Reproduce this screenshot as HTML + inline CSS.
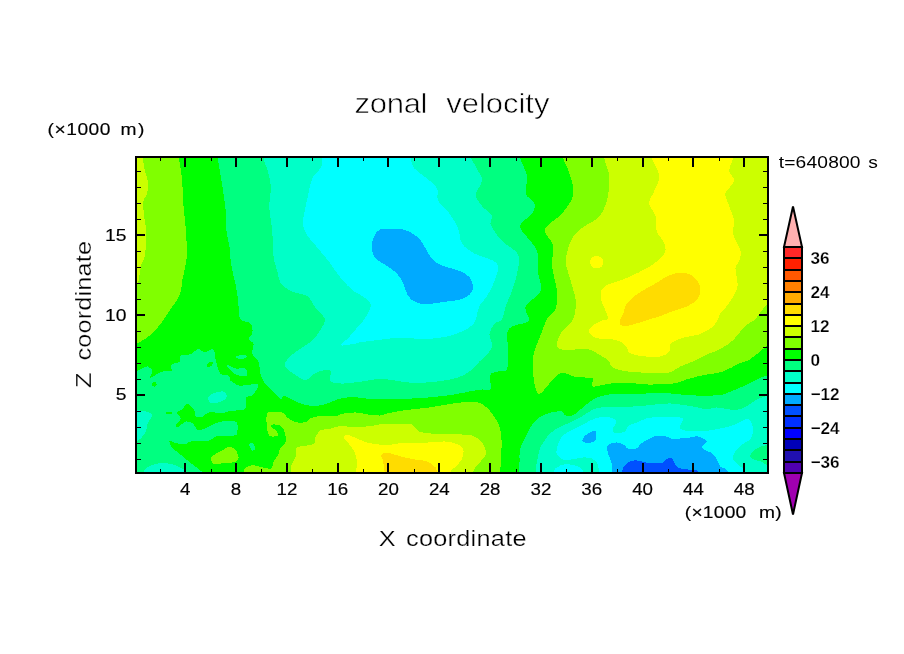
<!DOCTYPE html>
<html><head><meta charset="utf-8"><title>zonal velocity</title>
<style>
html,body{margin:0;padding:0;background:#fff}
svg{display:block}
text.thin{stroke:#fff;stroke-width:.6px}
text.thin2{stroke:#fff;stroke-width:.25px}
text.bold{stroke:#000;stroke-width:.15px}
</style></head><body>
<svg width="904" height="654" viewBox="0 0 904 654">
<defs><clipPath id="fr"><rect x="136.0" y="157.0" width="632.0" height="316.0"/></clipPath></defs>
<g clip-path="url(#fr)" shape-rendering="crispEdges">
<rect x="130" y="150" width="645" height="330" fill="#00ff00"/>
<path fill="#80ff00" d="M179.0 151.0C179.0 152.2 178.5 153.0 179.0 158.0C179.5 163.0 181.5 173.0 182.2 181.0C183.0 189.0 182.9 197.7 183.5 206.0C184.1 214.3 185.5 222.7 186.0 231.0C186.5 239.3 187.0 249.8 186.8 256.0C186.5 262.2 185.5 264.3 184.8 268.5C184.0 272.7 182.9 277.2 182.2 281.0C181.6 284.8 181.8 287.9 181.0 291.0C180.2 294.1 178.9 296.8 177.2 299.8C175.6 302.7 173.2 305.3 171.0 308.5C168.8 311.7 166.1 316.0 164.0 319.0C161.9 322.0 161.1 323.6 158.5 326.5C155.9 329.4 152.2 333.6 148.5 336.5C144.8 339.4 140.6 341.7 136.0 344.0C131.4 346.3 123.5 349.2 121.0 350.2L100.0 360.0L100.0 120.0L179.0 120.0Z"/>
<path fill="#80ff00" d="M563.2 148.5C563.2 150.1 562.2 153.8 563.2 158.0C564.3 162.2 567.8 167.4 569.5 173.5C571.2 179.6 574.5 188.1 573.2 194.8C572.0 201.4 566.4 208.3 562.0 213.5C557.6 218.7 549.7 222.7 547.0 226.0C544.3 229.3 544.7 230.2 545.8 233.5C546.8 236.8 552.2 240.6 553.2 246.0C554.3 251.4 551.4 258.5 552.0 266.0C552.6 273.5 556.4 283.9 557.0 291.0C557.6 298.1 557.4 303.8 555.8 308.5C554.1 313.2 549.3 315.2 547.0 319.0C544.7 322.8 543.7 327.3 542.0 331.5C540.3 335.7 538.5 339.8 537.0 344.0C535.5 348.2 533.9 351.5 533.2 356.5C532.6 361.5 532.8 368.6 533.2 374.0C533.7 379.4 534.7 385.7 535.8 389.0C536.8 392.3 537.6 394.4 539.5 394.0C541.4 393.6 544.5 389.2 547.0 386.5C549.5 383.8 552.0 380.0 554.5 377.8C557.0 375.5 558.7 373.0 562.0 372.8C565.3 372.5 570.2 375.7 574.5 376.5C578.8 377.3 584.9 377.3 588.0 377.8C591.1 378.2 592.2 377.5 593.0 379.0C593.8 380.5 590.1 385.8 593.0 386.5C595.9 387.2 604.7 384.1 610.5 383.5C616.3 382.9 621.8 382.6 628.0 382.8C634.2 382.9 640.5 384.4 648.0 384.5C655.5 384.6 666.3 384.4 673.0 383.5C679.7 382.6 683.0 380.4 688.0 379.0C693.0 377.6 697.2 376.5 703.0 375.2C708.8 374.0 717.2 373.4 723.0 371.5C728.8 369.6 733.4 366.1 738.0 364.0C742.6 361.9 745.5 362.1 750.5 359.0C755.5 355.9 761.8 349.4 768.0 345.2C774.2 341.1 784.7 335.9 788.0 334.0L800.0 120.0L563.0 120.0Z"/>
<path fill="#80ff00" d="M500.2 494.0C500.2 490.3 500.0 479.5 500.2 472.0C500.5 464.5 501.4 455.8 501.5 449.0C501.6 442.2 501.7 436.5 500.8 431.5C499.8 426.5 497.8 422.8 495.8 419.0C493.7 415.2 491.0 411.7 488.2 409.0C485.5 406.3 483.0 403.9 479.5 402.8C476.0 401.6 472.0 401.8 467.0 402.0C462.0 402.2 456.2 403.0 449.5 404.0C442.8 405.0 434.5 406.7 427.0 407.8C419.5 408.8 411.3 409.2 404.5 410.2C397.7 411.3 390.0 413.0 386.0 413.8C382.0 414.7 383.2 415.3 380.4 415.5C377.5 415.6 372.9 415.2 368.7 414.7C364.6 414.2 359.9 412.6 355.5 412.5C351.0 412.4 345.5 413.2 342.2 413.8C338.9 414.5 338.9 416.0 335.6 416.3C332.2 416.6 326.4 415.5 322.3 415.8C318.1 416.1 313.4 416.9 310.7 418.0C307.9 419.0 308.2 421.4 305.7 422.1C303.2 422.8 298.8 422.9 295.7 422.1C292.7 421.3 289.7 419.1 287.4 417.5C285.2 415.9 285.5 413.4 282.5 412.5C279.4 411.6 271.8 411.7 269.2 412.2C266.6 412.7 267.1 413.5 266.7 415.5C266.3 417.4 266.3 420.5 266.7 423.8C267.1 427.1 267.4 433.4 269.2 435.4C271.0 437.4 276.2 436.4 277.5 435.7C278.7 435.0 277.6 432.7 276.7 431.2C275.7 429.8 272.4 428.2 271.7 427.1C271.0 426.0 271.3 424.9 272.5 424.6C273.7 424.3 277.3 424.4 279.1 425.1C280.9 425.8 282.2 426.8 283.3 428.8C284.4 430.7 285.5 434.6 285.8 437.1C286.1 439.5 285.9 441.8 284.9 443.7C284.0 445.6 281.1 446.7 280.0 448.7C278.9 450.6 279.3 453.4 278.3 455.3C277.3 457.2 275.3 458.2 274.2 460.3C273.1 462.4 272.6 466.4 271.7 467.8C270.7 469.1 270.2 468.7 268.4 468.6C266.6 468.4 263.7 467.5 260.9 466.9C258.1 466.4 254.3 465.1 251.8 465.3C249.3 465.4 247.3 466.5 246.0 467.8C244.6 469.0 244.0 469.0 243.5 472.7C242.9 476.5 242.8 487.2 242.6 490.2Z"/>
<path fill="#80ff00" d="M211.5 457.2C212.2 456.1 213.8 455.0 215.6 453.9C217.4 452.8 220.3 451.7 222.3 450.6C224.2 449.5 225.3 447.7 227.3 447.3C229.2 446.9 232.1 446.9 233.9 448.1C235.7 449.4 237.4 452.8 238.0 454.8C238.7 456.7 238.7 458.5 238.0 459.7C237.4 461.0 236.0 461.7 233.9 462.2C231.8 462.8 228.9 462.8 225.6 463.1C222.3 463.3 216.3 464.3 214.0 463.9C211.6 463.5 211.9 461.7 211.5 460.6C211.1 459.5 210.8 458.4 211.5 457.2Z"/>
<path fill="#ccff00" d="M143.0 148.5C143.0 150.1 142.7 154.2 143.0 158.0C143.3 161.8 144.0 167.2 144.8 171.0C145.5 174.8 147.3 177.2 147.8 181.0C148.2 184.8 148.0 190.2 147.2 193.5C146.5 196.8 144.0 197.2 143.5 201.0C143.0 204.8 143.6 211.4 144.0 216.0C144.4 220.6 145.7 224.3 146.0 228.5C146.3 232.7 146.2 236.4 146.0 241.0C145.8 245.6 145.6 251.8 144.8 256.0C143.9 260.2 142.0 261.8 141.0 266.0C140.0 270.2 139.3 277.7 138.5 281.0C137.7 284.3 138.1 284.3 136.0 286.0C133.9 287.7 127.7 290.2 126.0 291.0L100.0 300.0L100.0 120.0Z"/>
<path fill="#ccff00" d="M604.2 148.5C604.2 150.1 603.4 153.4 604.2 158.0C605.1 162.6 608.6 169.7 609.2 176.0C609.9 182.3 609.0 190.2 608.0 196.0C607.0 201.8 605.1 207.0 603.0 211.0C600.9 215.0 598.0 217.6 595.5 219.8C593.0 221.9 590.9 222.1 588.0 224.0C585.1 225.9 581.1 228.2 578.2 231.0C575.4 233.8 572.8 236.0 570.8 241.0C568.7 246.0 565.8 254.3 565.8 261.0C565.8 267.7 569.1 274.3 570.8 281.0C572.4 287.7 575.3 294.7 575.8 301.0C576.2 307.3 575.5 313.9 573.2 319.0C571.0 324.1 564.7 327.5 562.0 331.5C559.3 335.5 557.4 339.8 557.0 342.8C556.6 345.7 556.6 347.9 559.5 349.0C562.4 350.1 569.8 349.5 574.5 349.5C579.2 349.5 584.1 348.2 588.0 349.0C591.9 349.8 594.7 352.1 598.0 354.0C601.3 355.9 605.5 358.0 608.0 360.2C610.5 362.5 609.7 365.9 613.0 367.8C616.3 369.6 622.2 370.7 628.0 371.5C633.8 372.3 641.3 372.5 648.0 372.8C654.7 373.0 662.6 373.8 668.0 372.8C673.4 371.7 676.3 368.4 680.5 366.5C684.7 364.6 688.4 363.6 693.0 361.5C697.6 359.4 703.4 356.1 708.0 354.0C712.6 351.9 716.3 351.3 720.5 349.0C724.7 346.7 729.7 343.2 733.0 340.2C736.3 337.3 738.0 334.2 740.5 331.5C743.0 328.8 745.5 326.1 748.0 324.0C750.5 321.9 752.2 322.4 755.5 319.0C758.8 315.6 762.6 308.2 768.0 303.5C773.4 298.8 784.7 293.1 788.0 291.0L800.0 120.0L604.0 120.0Z"/>
<path fill="#ccff00" d="M290.8 490.2C290.8 487.2 290.6 477.0 290.8 472.7C290.9 468.4 290.8 467.1 291.6 464.4C292.4 461.8 294.9 459.7 295.7 457.0C296.6 454.2 294.9 449.7 296.6 447.8C298.2 446.0 302.8 446.4 305.7 445.7C308.6 445.0 312.3 445.1 314.0 443.7C315.6 442.3 314.5 439.3 315.6 437.1C316.8 434.8 318.1 431.8 320.6 430.4C323.1 429.0 327.3 429.5 330.6 428.8C333.9 428.0 336.9 426.0 340.5 425.8C344.1 425.5 347.4 427.0 352.2 427.1C356.9 427.2 364.3 426.7 368.7 426.3C373.2 425.9 375.8 425.0 378.7 424.6C381.6 424.2 382.5 423.9 386.0 423.8C389.5 423.7 395.2 423.9 399.5 424.0C403.8 424.1 408.7 423.2 412.0 424.5C415.3 425.8 415.3 429.9 419.5 431.5C423.7 433.1 429.9 433.5 437.0 434.0C444.1 434.5 455.8 434.1 462.0 434.5C468.2 434.9 471.0 434.9 474.5 436.5C478.0 438.1 481.4 441.1 483.2 444.0C485.1 446.9 486.4 450.9 485.8 454.0C485.1 457.1 481.6 459.8 479.5 462.8C477.4 465.8 474.5 466.8 473.2 472.0C472.0 477.2 472.2 490.3 472.0 494.0Z"/>
<path fill="#ffff00" d="M651.8 148.5C651.8 150.1 650.5 153.4 651.8 158.0C653.0 162.6 658.8 170.5 659.2 176.0C659.7 181.5 655.9 186.4 654.2 191.0C652.6 195.6 649.0 199.3 649.2 203.5C649.5 207.7 654.2 211.4 655.5 216.0C656.8 220.6 655.3 226.4 656.8 231.0C658.2 235.6 663.0 239.8 664.2 243.5C665.5 247.2 666.5 249.8 664.2 253.5C662.0 257.2 657.0 261.8 650.5 266.0C644.0 270.2 633.0 275.2 625.5 278.5C618.0 281.8 609.7 283.1 605.5 286.0C601.3 288.9 600.5 291.8 600.5 296.0C600.5 300.2 604.2 307.2 605.5 311.0C606.8 314.8 608.8 317.3 608.0 319.0C607.2 320.7 603.1 319.8 600.5 321.0C597.9 322.2 594.1 324.3 592.2 326.0C590.3 327.7 588.9 329.3 588.9 331.0C588.9 332.7 590.6 334.8 592.2 336.0C593.9 337.2 595.5 337.9 598.8 338.5C602.1 339.1 608.2 338.6 612.1 339.3C616.0 340.0 619.6 341.2 622.1 342.6C624.6 344.0 625.6 345.8 627.0 347.6C628.4 349.4 627.3 351.9 630.4 353.4C633.5 354.9 640.5 356.0 645.5 356.5C650.5 357.0 656.5 357.3 660.5 356.5C664.5 355.7 667.6 353.6 669.2 351.5C670.9 349.4 668.2 346.3 670.5 344.0C672.8 341.7 678.0 339.4 683.0 337.8C688.0 336.1 695.5 335.9 700.5 334.0C705.5 332.1 710.1 329.0 713.0 326.5C715.9 324.0 716.8 321.2 718.0 319.0C719.2 316.8 718.4 316.5 720.5 313.5C722.6 310.5 727.7 305.6 730.5 301.0C733.3 296.4 736.7 291.4 737.5 286.0C738.3 280.6 735.2 272.7 735.5 268.5C735.8 264.3 738.4 263.9 739.2 261.0C740.1 258.1 741.5 255.6 740.5 251.0C739.5 246.4 734.0 238.5 733.0 233.5C732.0 228.5 734.9 225.6 734.2 221.0C733.6 216.4 730.7 210.6 729.2 206.0C727.8 201.4 724.7 197.7 725.5 193.5C726.3 189.3 733.6 184.8 734.2 181.0C734.9 177.2 729.5 174.8 729.2 171.0C729.0 167.2 732.4 161.8 733.0 158.0C733.6 154.2 733.0 150.1 733.0 148.5L733.0 120.0L651.0 120.0Z"/>
<path fill="#ffff00" d="M603.5 262.2C603.5 263.5 603.0 264.9 602.2 265.9C601.4 266.9 600.1 267.8 598.8 268.2C597.6 268.6 595.9 268.6 594.7 268.2C593.4 267.8 592.1 266.9 591.3 265.9C590.5 264.9 590.0 263.5 590.0 262.2C590.0 261.0 590.5 259.6 591.3 258.6C592.1 257.6 593.4 256.7 594.7 256.3C595.9 255.9 597.6 255.9 598.8 256.3C600.1 256.7 601.4 257.6 602.2 258.6C603.0 259.6 603.5 261.0 603.5 262.2Z"/>
<path fill="#ffff00" d="M355.5 490.2C355.5 487.2 355.2 477.2 355.5 472.7C355.7 468.3 357.3 467.1 357.1 463.6C357.0 460.1 356.0 455.3 354.6 452.0C353.3 448.7 350.6 446.0 348.8 443.7C347.0 441.3 344.1 439.4 343.9 437.9C343.6 436.4 345.2 434.6 347.2 434.6C349.1 434.6 352.4 436.6 355.5 437.9C358.5 439.1 361.6 440.9 365.4 442.0C369.3 443.1 375.3 444.0 378.7 444.5C382.1 445.1 381.7 445.6 386.0 445.3C390.3 445.1 398.1 443.2 404.5 442.8C410.9 442.3 417.8 443.0 424.5 442.8C431.2 442.5 439.1 441.3 444.5 441.5C449.9 441.7 453.9 442.8 457.0 444.0C460.1 445.2 462.4 446.5 463.2 449.0C464.1 451.5 463.2 456.1 462.0 459.0C460.8 461.9 457.6 464.3 455.8 466.5C453.9 468.7 451.8 467.4 450.8 472.0C449.7 476.6 449.7 490.3 449.5 494.0Z"/>
<path fill="#ffdc00" d="M626.2 304.5C628.6 301.3 633.1 297.0 638.0 293.5C642.9 290.0 650.1 286.6 655.5 283.5C660.9 280.4 665.5 276.5 670.5 274.8C675.5 273.0 681.3 272.4 685.5 273.0C689.7 273.6 693.0 275.9 695.5 278.5C698.0 281.1 700.1 285.2 700.5 288.5C700.9 291.8 700.1 295.6 698.0 298.5C695.9 301.4 692.2 303.9 688.0 306.0C683.8 308.1 677.6 309.3 673.0 311.0C668.4 312.7 664.2 314.7 660.5 316.0C656.8 317.3 654.2 317.8 650.5 319.0C646.8 320.2 641.6 321.9 638.0 323.0C634.4 324.1 631.5 325.3 628.7 325.7C625.9 326.1 622.7 325.8 621.2 325.2C619.7 324.6 619.2 324.0 619.6 321.9C620.0 319.8 622.6 315.7 623.7 312.8C624.8 309.9 623.9 307.7 626.2 304.5Z"/>
<path fill="#ffdc00" d="M387.0 490.0C386.4 485.2 384.2 467.3 383.2 461.5C382.2 455.7 380.4 456.5 381.0 455.0C381.6 453.5 383.9 452.6 387.0 452.8C390.1 452.9 395.3 455.0 399.5 456.0C403.7 457.0 407.4 458.1 412.0 459.0C416.6 459.9 423.2 460.2 427.0 461.5C430.8 462.8 432.8 464.8 434.5 466.5C436.2 468.2 436.4 468.1 437.0 472.0C437.6 475.9 437.8 487.0 438.0 490.0Z"/>
<path fill="#00ff80" d="M218.0 148.5C218.0 150.1 217.7 154.2 218.0 158.0C218.3 161.8 218.8 165.1 219.8 171.0C220.7 176.9 222.5 186.4 223.5 193.5C224.5 200.6 225.5 207.2 226.0 213.5C226.5 219.8 225.9 225.2 226.5 231.0C227.1 236.8 229.0 243.1 229.8 248.5C230.5 253.9 230.2 258.1 231.0 263.5C231.8 268.9 233.7 276.0 234.8 281.0C235.8 286.0 236.6 289.3 237.2 293.5C237.9 297.7 238.0 301.8 238.5 306.0C239.0 310.2 238.4 316.0 240.5 319.0C242.6 322.0 249.0 321.5 251.0 324.0C253.0 326.5 252.7 331.5 252.2 334.0C251.8 336.5 248.3 337.3 248.5 339.0C248.7 340.7 252.9 341.5 253.5 344.0C254.1 346.5 251.4 351.1 252.2 354.0C253.1 356.9 257.0 357.8 258.5 361.5C260.0 365.2 259.5 372.3 261.0 376.5C262.5 380.7 265.3 383.8 267.5 386.4C269.7 389.1 272.0 390.2 274.2 392.3C276.4 394.3 279.1 398.3 280.8 398.9C282.5 399.4 282.5 395.6 284.1 395.6C285.8 395.6 288.3 397.6 290.8 398.9C293.2 400.1 296.0 401.9 299.1 403.0C302.1 404.1 305.7 405.1 309.0 405.5C312.3 405.9 315.6 405.9 319.0 405.5C322.3 405.1 325.6 404.1 328.9 403.0C332.2 401.9 335.0 399.9 338.9 398.9C342.7 397.9 347.2 397.2 352.2 397.2C357.1 397.2 367.1 398.6 368.7 398.9C370.4 399.2 360.6 398.9 362.0 399.0C363.4 399.1 370.8 399.5 377.0 399.5C383.2 399.5 391.6 399.3 399.5 399.0C407.4 398.7 416.2 398.4 424.5 397.8C432.8 397.1 442.0 396.3 449.5 395.2C457.0 394.2 464.1 392.5 469.5 391.5C474.9 390.5 478.5 389.9 482.0 389.5C485.5 389.1 489.4 391.4 490.8 389.0C492.1 386.6 488.8 378.2 490.0 375.2C491.2 372.3 495.4 372.5 498.2 371.5C501.1 370.5 505.3 372.8 507.0 369.0C508.7 365.2 508.2 354.8 508.2 349.0C508.2 343.2 506.4 337.8 507.0 334.0C507.6 330.2 508.9 328.4 512.0 326.5C515.1 324.6 522.9 324.0 525.8 322.8C528.6 321.5 529.0 321.8 529.0 319.0C529.0 316.2 523.8 310.7 525.8 306.0C527.7 301.3 538.7 296.4 540.8 291.0C542.8 285.6 538.9 280.2 538.2 273.5C537.6 266.8 538.7 256.8 537.0 251.0C535.3 245.2 531.1 242.7 528.2 238.5C525.4 234.3 519.4 230.2 520.0 226.0C520.6 221.8 529.6 217.2 532.0 213.5C534.4 209.8 535.5 206.8 534.5 203.5C533.5 200.2 527.0 198.1 525.8 193.5C524.5 188.9 528.0 181.9 527.0 176.0C526.0 170.1 521.2 162.6 520.0 158.0C518.8 153.4 520.0 150.1 520.0 148.5Z"/>
<path fill="#00ff80" d="M126.0 373.2C127.2 373.0 134.1 372.1 136.0 371.5C137.9 370.9 141.3 368.8 142.6 368.2C144.0 367.6 146.5 366.3 147.6 366.5C148.8 366.8 152.4 369.3 152.6 370.7C152.8 372.1 149.1 377.6 149.3 378.2C149.5 378.7 152.7 376.4 154.3 375.7C155.8 374.9 160.5 372.1 162.5 371.5C164.6 370.9 170.7 371.5 171.7 370.7C172.6 369.9 169.9 366.0 170.8 364.9C171.8 363.8 178.9 362.6 180.0 361.6C181.0 360.5 178.7 356.6 180.0 355.8C181.2 354.9 188.6 354.9 190.8 354.1C192.9 353.3 196.6 349.3 198.2 349.1C199.9 348.9 203.2 352.4 204.9 352.4C206.5 352.4 211.2 349.0 212.3 349.1C213.5 349.2 214.4 352.0 214.8 353.3C215.2 354.5 215.2 357.8 215.6 359.9C216.1 362.0 218.2 369.8 219.0 371.5C219.7 373.3 221.1 374.4 222.3 374.8C223.4 375.3 228.0 375.0 228.9 375.7C229.9 376.4 229.4 379.5 230.6 380.7C231.7 381.8 236.7 385.1 238.9 385.6C241.0 386.1 246.6 385.0 248.8 384.8C251.1 384.6 257.0 383.5 258.0 384.0C258.9 384.5 257.8 387.6 257.1 388.9C256.5 390.3 253.4 394.6 252.2 395.6C250.9 396.6 247.0 396.1 246.3 397.2C245.7 398.4 246.6 404.1 246.3 405.5C246.1 407.0 245.7 409.3 243.9 410.0C242.0 410.6 232.9 410.4 230.6 410.8C228.3 411.1 226.5 412.7 223.9 412.9C221.4 413.1 211.5 412.0 209.0 412.4C206.5 412.9 203.9 416.1 202.4 416.6C200.8 417.1 196.7 417.4 195.7 416.6C194.8 415.8 195.0 411.5 194.1 410.0C193.1 408.4 188.8 403.7 187.4 403.7C186.1 403.6 183.7 408.0 182.5 409.1C181.2 410.2 176.8 411.9 176.7 412.9C176.5 414.0 180.9 416.8 180.8 418.3C180.7 419.7 175.9 424.7 175.5 425.7C175.1 426.8 176.3 427.9 177.5 427.4C178.7 426.9 184.0 422.1 185.8 421.6C187.5 421.1 191.1 422.3 192.4 423.2C193.8 424.2 196.0 428.9 197.4 429.5C198.7 430.2 202.5 429.5 204.0 429.0C205.6 428.6 208.7 426.6 210.7 425.7C212.6 424.8 217.7 422.1 220.6 421.6C223.5 421.1 233.6 421.2 235.6 421.6C237.5 422.0 237.5 423.3 237.5 424.9C237.6 426.4 237.8 433.6 236.4 434.8C235.0 436.1 228.0 435.5 225.6 435.7C223.2 435.9 217.6 435.9 215.6 436.5C213.7 437.1 211.7 440.2 209.0 440.7C206.3 441.1 195.1 440.3 192.4 440.7C189.7 441.0 187.7 443.7 185.8 444.0C183.8 444.3 177.8 443.5 175.8 443.1C173.9 442.8 169.6 440.1 169.2 440.7C168.8 441.2 171.1 446.5 172.5 448.1C173.9 449.8 178.7 453.0 180.8 454.8C182.9 456.5 188.2 461.0 190.8 463.1C193.3 465.1 199.9 469.9 202.4 472.2C204.9 474.5 211.2 481.7 212.3 483.0L100.0 500.0Z"/>
<path fill="#00ff00" d="M156.6 384.3C156.6 384.8 156.3 385.5 155.9 385.9C155.5 386.3 154.8 386.6 154.3 386.6C153.7 386.6 153.0 386.3 152.6 385.9C152.2 385.5 152.0 384.8 152.0 384.3C152.0 383.8 152.2 383.1 152.6 382.7C153.0 382.3 153.7 382.0 154.3 382.0C154.8 382.0 155.5 382.3 155.9 382.7C156.3 383.1 156.6 383.8 156.6 384.3Z"/>
<path fill="#00ff00" d="M206.5 364.9C206.8 364.0 208.7 362.3 209.8 361.9C210.9 361.5 212.9 361.8 213.2 362.4C213.4 363.0 212.3 364.9 211.5 365.7C210.7 366.5 209.0 367.5 208.2 367.4C207.3 367.2 206.2 365.8 206.5 364.9Z"/>
<path fill="#00ff00" d="M165.5 412.1L171.8 412.1L171.8 413.9L165.5 413.9Z"/>
<path fill="#00ff80" d="M227.3 364.9C228.6 365.1 232.5 367.9 235.6 368.5C238.6 369.1 243.6 367.4 245.5 368.5C247.4 369.7 248.2 374.6 246.8 375.7C245.5 376.8 239.8 375.9 237.2 375.2C234.6 374.4 233.0 372.5 231.4 371.2C229.8 369.9 228.3 368.4 227.6 367.4C226.9 366.3 225.9 364.7 227.3 364.9Z"/>
<path fill="#00ff80" d="M235.6 356.9C236.1 356.3 240.3 355.1 242.2 354.9C244.1 354.7 246.6 355.2 247.2 355.8C247.7 356.3 246.9 357.8 245.5 358.3C244.1 358.8 240.5 359.0 238.9 358.8C237.2 358.5 235.0 357.6 235.6 356.9Z"/>
<path fill="#00ff80" d="M249.7 443.5C250.3 442.8 252.6 442.6 253.5 443.5C254.4 444.4 255.3 447.8 255.1 448.9C255.0 450.1 253.4 450.9 252.5 450.6C251.6 450.3 250.3 448.5 249.8 447.3C249.4 446.1 249.1 444.1 249.7 443.5Z"/>
<path fill="#00ff80" d="M519.5 494.0C519.5 490.3 519.5 477.4 519.5 472.0C519.5 466.6 519.4 465.3 519.5 461.5C519.6 457.7 519.2 452.8 520.0 449.0C520.8 445.2 522.9 442.3 524.5 439.0C526.1 435.7 527.4 432.3 529.5 429.0C531.6 425.7 533.7 421.7 537.0 419.0C540.3 416.3 545.3 414.0 549.5 412.8C553.7 411.5 559.5 411.1 562.0 411.5C564.5 411.9 562.6 414.6 564.5 415.2C566.4 415.9 570.4 416.3 573.2 415.2C576.0 414.1 578.7 410.8 581.5 408.6C584.2 406.4 587.0 403.9 589.8 402.0C592.5 400.0 594.2 398.4 598.1 397.0C601.9 395.6 610.5 394.2 613.0 393.7C615.5 393.2 608.8 393.9 613.0 394.0C617.2 394.1 629.7 394.2 638.0 394.0C646.3 393.8 654.7 392.5 663.0 392.8C671.3 393.0 678.8 394.8 688.0 395.2C697.2 395.7 710.9 395.9 718.0 395.2C725.1 394.6 725.9 393.2 730.5 391.5C735.1 389.8 740.5 387.5 745.5 385.2C750.5 383.0 756.8 379.4 760.5 377.8C764.2 376.1 763.4 376.7 768.0 375.2C772.6 373.8 784.7 370.0 788.0 369.0L800.0 510.0Z"/>
<path fill="#00ffc8" d="M263.5 148.5C263.5 150.1 262.7 153.8 263.5 158.0C264.3 162.2 267.2 168.4 268.5 173.5C269.8 178.6 270.9 183.1 271.0 188.5C271.1 193.9 269.0 198.9 269.2 206.0C269.5 213.1 271.5 222.7 272.2 231.0C273.0 239.3 272.7 249.3 273.5 256.0C274.3 262.7 276.0 266.4 277.2 271.0C278.5 275.6 278.7 280.2 281.0 283.5C283.3 286.8 287.7 289.2 291.0 291.0C294.3 292.8 298.1 293.0 301.0 294.0C303.9 295.0 306.0 294.8 308.5 297.2C311.0 299.7 313.3 304.9 316.0 308.5C318.7 312.1 323.9 315.6 324.8 319.0C325.6 322.4 323.3 325.2 321.0 329.0C318.7 332.8 315.2 337.8 311.0 341.5C306.8 345.2 300.2 348.2 296.0 351.5C291.8 354.8 287.7 358.8 286.0 361.5C284.3 364.2 284.3 365.5 286.0 367.8C287.7 370.0 292.7 373.2 296.0 375.2C299.3 377.3 302.7 380.7 306.0 380.2C309.3 379.8 312.0 374.4 316.0 372.8C320.0 371.1 327.2 368.8 329.8 370.2C332.2 371.7 328.7 379.3 331.0 381.5C333.3 383.7 338.3 383.5 343.5 383.5C348.7 383.5 355.6 382.2 362.0 381.5C368.4 380.8 373.7 378.8 382.0 379.0C390.3 379.2 402.8 382.3 412.0 382.8C421.2 383.2 429.5 382.3 437.0 381.5C444.5 380.7 451.6 379.4 457.0 377.8C462.4 376.1 465.8 374.2 469.5 371.5C473.2 368.8 476.2 364.8 479.5 361.5C482.8 358.2 487.4 354.4 489.5 351.5C491.6 348.6 492.0 346.9 492.0 344.0C492.0 341.1 489.1 337.3 489.5 334.0C489.9 330.7 492.4 326.5 494.5 324.0C496.6 321.5 500.1 322.0 502.0 319.0C503.9 316.0 504.1 310.7 505.8 306.0C507.4 301.3 510.1 296.4 512.0 291.0C513.9 285.6 516.0 279.5 517.0 273.5C518.0 267.5 520.8 260.2 518.2 254.8C515.8 249.3 506.6 246.0 502.0 241.0C497.4 236.0 492.4 228.9 490.8 224.8C489.1 220.6 493.5 219.1 492.0 216.0C490.5 212.9 484.7 209.5 482.0 206.0C479.3 202.5 475.8 198.9 475.8 194.8C475.8 190.6 481.6 185.0 482.0 181.0C482.4 177.0 480.0 174.8 478.2 171.0C476.5 167.2 472.4 161.8 471.2 158.0C470.1 154.2 471.2 150.1 471.2 148.5Z"/>
<path fill="#00ffc8" d="M126.0 409.1C127.7 409.3 132.7 409.5 136.0 410.0C139.3 410.4 143.3 410.9 146.0 411.6C148.6 412.3 150.9 413.0 151.8 414.1C152.6 415.2 151.6 416.7 150.9 418.3C150.2 419.8 148.4 421.0 147.6 423.2C146.8 425.4 147.1 429.0 146.0 431.5C144.8 434.0 142.6 436.5 141.0 438.2C139.3 439.8 138.5 440.4 136.0 441.5C133.5 442.6 127.7 444.2 126.0 444.8Z"/>
<path fill="#00ffc8" d="M142.6 483.0C142.8 481.2 142.6 474.8 143.5 472.2C144.3 469.6 145.5 468.6 147.6 467.2C149.7 465.8 152.9 464.6 155.9 463.9C159.0 463.2 162.5 462.8 165.9 463.1C169.2 463.3 172.8 464.4 175.8 465.5C178.9 466.6 182.5 468.6 184.1 469.7C185.8 470.8 185.4 470.0 185.8 472.2C186.2 474.4 186.5 481.2 186.6 483.0Z"/>
<path fill="#00ffc8" d="M208.2 397.2C208.7 395.6 211.6 394.1 214.0 393.1C216.3 392.1 220.2 391.3 222.3 391.4C224.4 391.6 225.9 392.7 226.4 393.9C227.0 395.2 226.8 397.5 225.6 398.9C224.4 400.3 221.5 401.6 219.0 402.2C216.5 402.9 212.5 403.6 210.7 402.7C208.9 401.9 207.6 398.8 208.2 397.2Z"/>
<path fill="#00ffc8" d="M535.8 494.0C535.8 490.3 535.5 477.4 535.8 472.0C536.0 466.6 536.3 465.4 537.0 461.5C537.7 457.6 538.7 452.0 540.0 448.4C541.3 444.9 543.3 442.6 545.0 440.1C546.6 437.6 547.5 435.7 550.0 433.5C552.4 431.3 556.6 428.6 559.9 426.8C563.2 425.0 566.3 424.4 569.9 422.7C573.5 421.0 577.6 419.1 581.5 416.9C585.4 414.7 588.9 411.1 593.1 409.4C597.2 407.8 601.4 407.3 606.4 406.9C611.3 406.5 617.4 407.1 623.0 406.9C628.5 406.8 634.0 406.5 639.6 406.1C645.1 405.7 650.6 404.9 656.2 404.4C661.7 404.0 665.8 403.1 672.7 403.6C679.7 404.1 692.4 406.4 698.0 407.4C703.6 408.4 703.4 409.5 706.4 409.5C709.4 409.5 713.0 407.5 716.3 407.4C719.6 407.3 723.0 408.6 726.3 409.0C729.6 409.4 732.9 410.3 736.2 409.9C739.5 409.5 742.9 408.2 746.2 406.5C749.5 404.8 752.6 401.7 756.1 399.9C759.6 398.1 761.4 397.8 767.0 395.8C772.6 393.8 786.2 389.3 790.0 388.0L800.0 510.0Z"/>
<path fill="#00ff80" d="M777.7 443.9C775.9 444.1 770.0 444.7 766.9 445.2C763.9 445.8 761.8 446.2 759.5 447.2C757.1 448.2 754.4 449.8 752.8 451.3C751.3 452.9 750.1 454.9 750.3 456.3C750.6 457.7 752.7 458.8 754.5 459.6C756.3 460.5 759.1 460.8 761.1 461.6C763.2 462.5 764.2 464.2 766.9 465.0C769.7 465.7 775.9 466.1 777.7 466.3Z"/>
<path fill="#00ffff" d="M322.2 148.5C322.2 150.1 322.5 154.9 322.2 158.0C322.0 161.1 322.7 163.8 321.0 167.2C319.3 170.7 314.3 174.1 312.2 178.5C310.2 182.9 309.8 188.1 308.5 193.5C307.2 198.9 305.7 206.0 304.8 211.0C303.8 216.0 302.8 219.8 303.0 223.5C303.2 227.2 303.8 229.8 306.0 233.5C308.2 237.2 312.2 241.4 316.0 246.0C319.8 250.6 324.3 255.6 328.5 261.0C332.7 266.4 336.8 273.5 341.0 278.5C345.2 283.5 350.0 288.1 353.5 291.0C357.0 293.9 359.1 293.7 362.0 296.0C364.9 298.3 370.3 300.9 370.8 304.8C371.2 308.6 367.0 315.0 364.5 319.0C362.0 323.0 358.7 325.9 356.0 329.0C353.3 332.1 351.0 335.0 348.5 337.8C346.0 340.5 340.2 344.2 341.0 345.2C341.8 346.3 350.0 344.5 353.5 344.0C357.0 343.5 358.1 342.6 362.0 342.0C365.9 341.4 370.8 341.0 377.0 340.2C383.2 339.5 391.6 338.0 399.5 337.8C407.4 337.5 416.6 339.2 424.5 339.0C432.4 338.8 440.8 337.8 447.0 336.5C453.2 335.2 457.8 333.4 462.0 331.5C466.2 329.6 469.7 327.3 472.0 325.2C474.3 323.2 474.5 322.2 475.8 319.0C477.0 315.8 477.6 309.8 479.5 306.0C481.4 302.2 484.5 300.2 487.0 296.0C489.5 291.8 492.8 286.4 494.5 281.0C496.2 275.6 500.3 268.1 497.0 263.5C493.7 258.9 480.3 256.8 474.5 253.5C468.7 250.2 464.7 247.7 462.0 243.5C459.3 239.3 460.3 233.5 458.2 228.5C456.2 223.5 452.8 218.1 449.5 213.5C446.2 208.9 440.3 205.2 438.2 201.0C436.2 196.8 438.9 192.2 437.0 188.5C435.1 184.8 430.8 181.8 427.0 178.5C423.2 175.2 417.2 171.9 414.5 168.5C411.8 165.1 411.4 161.3 410.8 158.0C410.1 154.7 410.8 150.1 410.8 148.5Z"/>
<path fill="#00ffff" d="M598.9 491.6C598.9 488.4 599.2 477.2 598.9 472.5C598.6 467.8 598.5 465.7 597.2 463.3C596.0 461.0 593.8 459.3 591.4 458.4C589.1 457.4 586.2 457.4 583.1 457.5C580.1 457.7 576.2 458.8 573.2 459.2C570.1 459.6 567.1 460.3 564.9 460.0C562.7 459.8 561.3 458.6 559.9 457.5C558.5 456.4 557.0 455.2 556.6 453.4C556.2 451.6 556.6 449.5 557.4 446.8C558.3 444.0 559.2 439.6 561.6 436.8C563.9 434.0 567.9 432.2 571.5 430.2C575.1 428.1 579.3 426.3 583.1 424.4C587.0 422.4 590.9 419.8 594.8 418.5C598.6 417.3 603.1 416.8 606.4 416.9C609.7 417.0 613.0 418.4 614.7 419.4C616.3 420.3 616.6 421.2 616.3 422.7C616.1 424.2 613.3 426.8 613.0 428.5C612.7 430.2 612.7 432.1 614.7 432.7C616.6 433.2 622.4 432.9 624.6 431.8C626.8 430.7 626.0 427.5 627.9 426.0C629.9 424.5 633.2 423.9 636.2 422.7C639.3 421.5 642.3 419.5 646.2 418.5C650.1 417.6 655.0 417.2 659.5 416.9C663.9 416.6 669.1 416.8 672.7 416.9C676.3 417.0 679.3 417.2 681.0 417.7C682.8 418.3 683.1 418.3 683.0 420.2C682.9 422.1 678.0 427.1 680.5 429.0C683.0 430.9 691.8 431.5 698.0 431.5C704.2 431.5 712.2 430.0 718.0 429.0C723.8 428.0 728.0 426.9 733.0 425.2C738.0 423.6 744.7 418.4 748.0 419.0C751.3 419.6 752.6 425.7 753.0 429.0C753.4 432.3 752.2 436.5 750.5 439.0C748.8 441.5 745.5 441.9 743.0 444.0C740.5 446.1 737.2 449.0 735.5 451.5C733.8 454.0 732.2 456.5 733.0 459.0C733.8 461.5 738.6 464.3 740.5 466.5C742.4 468.7 743.4 467.4 744.2 472.0C745.1 476.6 745.3 490.3 745.5 494.0Z"/>
<path fill="#00ffff" d="M552.4 491.6C552.6 488.4 552.3 476.6 553.3 472.5C554.2 468.3 556.3 468.1 558.3 466.7C560.2 465.3 562.4 464.5 564.9 464.2C567.4 463.9 570.7 464.5 573.2 465.0C575.7 465.6 578.2 466.3 579.8 467.5C581.5 468.7 582.5 468.5 583.1 472.5C583.8 476.5 583.8 488.4 584.0 491.6Z"/>
<path fill="#00aaff" d="M379.5 229.8C382.6 228.2 387.8 229.0 392.0 229.0C396.2 229.0 400.8 228.8 404.5 229.8C408.2 230.7 411.6 232.7 414.5 234.8C417.4 236.8 419.7 239.1 422.0 242.2C424.3 245.4 426.0 250.2 428.2 253.5C430.5 256.8 432.6 260.0 435.8 262.2C438.9 264.5 443.0 265.8 447.0 267.2C451.0 268.7 455.8 269.3 459.5 271.0C463.2 272.7 467.2 274.5 469.5 277.2C471.8 280.0 473.2 284.3 473.2 287.2C473.2 290.2 471.8 292.7 469.5 294.8C467.2 296.8 463.7 298.6 459.5 299.8C455.3 300.9 449.9 301.0 444.5 301.8C439.1 302.5 431.8 303.9 427.0 304.0C422.2 304.1 418.9 303.6 415.8 302.2C412.6 300.9 410.3 299.1 408.2 296.0C406.2 292.9 405.1 287.2 403.2 283.5C401.4 279.8 399.7 276.4 397.0 273.5C394.3 270.6 390.5 268.5 387.0 266.0C383.5 263.5 378.2 261.2 375.8 258.5C373.2 255.8 372.4 253.1 372.0 249.8C371.6 246.4 372.0 241.8 373.2 238.5C374.5 235.2 376.4 231.3 379.5 229.8Z"/>
<path fill="#00aaff" d="M612.2 491.6C612.2 488.4 612.3 477.5 612.2 472.5C612.0 467.5 612.0 464.9 611.3 461.7C610.7 458.5 608.7 455.9 608.0 453.4C607.3 450.9 606.6 448.4 607.2 446.8C607.8 445.1 609.6 444.1 611.3 443.4C613.1 442.7 615.8 442.3 618.0 442.6C620.2 442.9 623.1 444.1 624.6 445.1C626.1 446.1 625.2 447.9 627.1 448.4C629.0 449.0 633.9 449.2 636.2 448.4C638.6 447.6 639.0 445.1 641.2 443.4C643.4 441.8 646.5 439.8 649.5 438.5C652.6 437.1 656.2 435.6 659.5 435.5C662.8 435.3 667.2 437.0 669.4 437.6C671.7 438.2 669.9 439.0 673.0 439.0C676.1 439.0 683.8 438.2 688.0 437.8C692.2 437.3 694.9 435.9 698.0 436.5C701.1 437.1 706.1 439.6 706.8 441.5C707.4 443.4 700.7 445.7 701.8 447.8C702.8 449.8 710.3 451.7 713.0 454.0C715.7 456.3 716.8 459.4 718.0 461.5C719.2 463.6 718.8 464.8 720.5 466.5C722.2 468.2 726.3 467.4 728.0 472.0C729.7 476.6 730.1 490.3 730.5 494.0Z"/>
<path fill="#00aaff" d="M582.3 440.1C582.3 439.0 583.3 437.4 584.8 436.0C586.3 434.6 589.6 432.7 591.4 431.8C593.2 431.0 594.8 430.2 595.6 431.0C596.4 431.8 596.4 435.0 596.1 436.8C595.8 438.6 595.8 440.8 593.9 441.8C592.0 442.7 586.7 442.9 584.8 442.6C582.9 442.3 582.3 441.2 582.3 440.1Z"/>
<path fill="#0050ff" d="M621.3 491.6C621.4 488.4 621.6 476.8 622.1 472.5C622.7 468.2 623.4 467.6 624.6 465.8C625.9 464.0 627.7 462.6 629.6 461.7C631.5 460.8 633.5 460.2 636.2 460.4C639.0 460.5 642.9 462.1 646.2 462.5C649.5 463.0 653.4 463.0 656.2 463.0C658.9 463.0 660.9 463.3 662.8 462.5C664.7 461.7 666.2 459.1 667.8 458.4C669.3 457.6 670.8 457.2 671.9 458.0C673.0 458.9 673.4 461.8 674.4 463.3C675.4 464.9 676.1 466.5 677.7 467.5C679.4 468.5 682.3 468.8 684.4 469.2C686.4 469.5 688.6 469.5 690.0 469.7C691.4 469.8 691.7 469.9 693.0 470.2C694.3 470.6 697.0 468.0 698.0 472.0C699.0 476.0 699.0 490.3 699.2 494.0Z"/>
</g>
<g stroke="#000" fill="none" shape-rendering="crispEdges">
<rect x="136.0" y="157.0" width="632.0" height="316.0" stroke-width="2"/>
<path stroke-width="1" d="M160.5 473.0v-4M160.5 157.0v4"/>
<path stroke-width="2" d="M185 473.0v-10M185 157.0v10"/>
<path stroke-width="1" d="M211.5 473.0v-4M211.5 157.0v4"/>
<path stroke-width="2" d="M236 473.0v-10M236 157.0v10"/>
<path stroke-width="1" d="M261.5 473.0v-4M261.5 157.0v4"/>
<path stroke-width="2" d="M287 473.0v-10M287 157.0v10"/>
<path stroke-width="1" d="M312.5 473.0v-4M312.5 157.0v4"/>
<path stroke-width="2" d="M338 473.0v-10M338 157.0v10"/>
<path stroke-width="1" d="M363.5 473.0v-4M363.5 157.0v4"/>
<path stroke-width="2" d="M388 473.0v-10M388 157.0v10"/>
<path stroke-width="1" d="M414.5 473.0v-4M414.5 157.0v4"/>
<path stroke-width="2" d="M439 473.0v-10M439 157.0v10"/>
<path stroke-width="1" d="M465.5 473.0v-4M465.5 157.0v4"/>
<path stroke-width="2" d="M490 473.0v-10M490 157.0v10"/>
<path stroke-width="1" d="M516.5 473.0v-4M516.5 157.0v4"/>
<path stroke-width="2" d="M541 473.0v-10M541 157.0v10"/>
<path stroke-width="1" d="M566.5 473.0v-4M566.5 157.0v4"/>
<path stroke-width="2" d="M592 473.0v-10M592 157.0v10"/>
<path stroke-width="1" d="M617.5 473.0v-4M617.5 157.0v4"/>
<path stroke-width="2" d="M643 473.0v-10M643 157.0v10"/>
<path stroke-width="1" d="M668.5 473.0v-4M668.5 157.0v4"/>
<path stroke-width="2" d="M693 473.0v-10M693 157.0v10"/>
<path stroke-width="1" d="M719.5 473.0v-4M719.5 157.0v4"/>
<path stroke-width="2" d="M744 473.0v-10M744 157.0v10"/>
<path stroke-width="1" d="M136.0 459.5h5M768.0 459.5h-5"/>
<path stroke-width="1" d="M136.0 443.5h5M768.0 443.5h-5"/>
<path stroke-width="1" d="M136.0 427.5h5M768.0 427.5h-5"/>
<path stroke-width="1" d="M136.0 411.5h5M768.0 411.5h-5"/>
<path stroke-width="2" d="M136.0 395h9M768.0 395h-9"/>
<path stroke-width="1" d="M136.0 379.5h5M768.0 379.5h-5"/>
<path stroke-width="1" d="M136.0 363.5h5M768.0 363.5h-5"/>
<path stroke-width="1" d="M136.0 347.5h5M768.0 347.5h-5"/>
<path stroke-width="1" d="M136.0 331.5h5M768.0 331.5h-5"/>
<path stroke-width="2" d="M136.0 315h9M768.0 315h-9"/>
<path stroke-width="1" d="M136.0 299.5h5M768.0 299.5h-5"/>
<path stroke-width="1" d="M136.0 283.5h5M768.0 283.5h-5"/>
<path stroke-width="1" d="M136.0 267.5h5M768.0 267.5h-5"/>
<path stroke-width="1" d="M136.0 251.5h5M768.0 251.5h-5"/>
<path stroke-width="2" d="M136.0 235h9M768.0 235h-9"/>
<path stroke-width="1" d="M136.0 219.5h5M768.0 219.5h-5"/>
<path stroke-width="1" d="M136.0 203.5h5M768.0 203.5h-5"/>
<path stroke-width="1" d="M136.0 187.5h5M768.0 187.5h-5"/>
<path stroke-width="1" d="M136.0 171.5h5M768.0 171.5h-5"/>
</g>
<g shape-rendering="crispEdges">
<rect x="784" y="247.00" width="18" height="11.80" fill="#ff2828"/>
<rect x="784" y="258.30" width="18" height="11.80" fill="#ff2000"/>
<rect x="784" y="269.60" width="18" height="11.80" fill="#ff5800"/>
<rect x="784" y="280.90" width="18" height="11.80" fill="#ff8000"/>
<rect x="784" y="292.20" width="18" height="11.80" fill="#ffaa00"/>
<rect x="784" y="303.50" width="18" height="11.80" fill="#ffdc00"/>
<rect x="784" y="314.80" width="18" height="11.80" fill="#ffff00"/>
<rect x="784" y="326.10" width="18" height="11.80" fill="#ccff00"/>
<rect x="784" y="337.40" width="18" height="11.80" fill="#80ff00"/>
<rect x="784" y="348.70" width="18" height="11.80" fill="#00ff00"/>
<rect x="784" y="360.00" width="18" height="11.80" fill="#00ff80"/>
<rect x="784" y="371.30" width="18" height="11.80" fill="#00ffc8"/>
<rect x="784" y="382.60" width="18" height="11.80" fill="#00ffff"/>
<rect x="784" y="393.90" width="18" height="11.80" fill="#00aaff"/>
<rect x="784" y="405.20" width="18" height="11.80" fill="#0050ff"/>
<rect x="784" y="416.50" width="18" height="11.80" fill="#0030ff"/>
<rect x="784" y="427.80" width="18" height="11.80" fill="#0000ff"/>
<rect x="784" y="439.10" width="18" height="11.80" fill="#0000b8"/>
<rect x="784" y="450.40" width="18" height="11.80" fill="#2010b0"/>
<rect x="784" y="461.70" width="18" height="11.80" fill="#5000b0"/>
</g>
<g stroke="#000" stroke-width="2" fill="none">
<rect x="784" y="247.0" width="18" height="226.0"/>
<path d="M784 258.0h18M784 270.0h18M784 281.0h18M784 292.0h18M784 304.0h18M784 315.0h18M784 326.0h18M784 337.0h18M784 349.0h18M784 360.0h18M784 371.0h18M784 383.0h18M784 394.0h18M784 405.0h18M784 416.0h18M784 428.0h18M784 439.0h18M784 450.0h18M784 462.0h18" shape-rendering="crispEdges"/>
<path d="M784 247.0L793 206.5L802 247.0Z" fill="#ffb0b0" stroke-linejoin="miter"/>
<path d="M784 473.0L793 514.5L802 473.0Z" fill="#a000b0" stroke-linejoin="miter"/>
</g>
<g font-family="'Liberation Sans', sans-serif" fill="#000">
<text font-size="27" transform="translate(354.5 112.5) scale(1.150 1)" textLength="63.5" lengthAdjust="spacing" class="thin">zonal</text>
<text font-size="27" transform="translate(446.2 112.5) scale(1.150 1)" textLength="89.8" lengthAdjust="spacing" class="thin">velocity</text>
<text font-size="16" transform="translate(47.5 134.5) scale(1.200 1)" textLength="52.5" lengthAdjust="spacing" class="bold">(×1000</text>
<text font-size="16" transform="translate(120.5 134.5) scale(1.200 1)" textLength="20.0" lengthAdjust="spacing" class="bold">m)</text>
<text font-size="16" transform="translate(684.8 517.5) scale(1.200 1)" textLength="51.2" lengthAdjust="spacing" class="bold">(×1000</text>
<text font-size="16" transform="translate(759.0 517.5) scale(1.200 1)" textLength="18.8" lengthAdjust="spacing" class="bold">m)</text>
<text font-size="16" transform="translate(778.7 168.4) scale(1.200 1)" textLength="68.2" lengthAdjust="spacing">t=640800</text>
<text font-size="16" transform="translate(868.2 168.4) scale(1.200 1)" textLength="6.9" lengthAdjust="spacing">s</text>
<text font-size="22" transform="translate(378.8 546.0) scale(1.150 1)" textLength="11.9" lengthAdjust="spacing" class="thin2">X</text>
<text font-size="22" transform="translate(406.0 546.0) scale(1.150 1)" textLength="104.8" lengthAdjust="spacing" class="thin2">coordinate</text>
<text font-size="22" transform="translate(91.2 388.0) rotate(-90) scale(1.150 1)" textLength="11.3" lengthAdjust="spacing" class="thin2">Z</text>
<text font-size="22" transform="translate(91.2 360.5) rotate(-90) scale(1.150 1)" textLength="103.9" lengthAdjust="spacing" class="thin2">coordinate</text>
<text font-size="16.3" transform="translate(185.2 495.3) scale(1.150 1)" class="bold" text-anchor="middle">4</text>
<text font-size="16.3" transform="translate(236.0 495.3) scale(1.150 1)" class="bold" text-anchor="middle">8</text>
<text font-size="16.3" transform="translate(286.9 495.3) scale(1.150 1)" class="bold" text-anchor="middle">12</text>
<text font-size="16.3" transform="translate(337.7 495.3) scale(1.150 1)" class="bold" text-anchor="middle">16</text>
<text font-size="16.3" transform="translate(388.5 495.3) scale(1.150 1)" class="bold" text-anchor="middle">20</text>
<text font-size="16.3" transform="translate(439.3 495.3) scale(1.150 1)" class="bold" text-anchor="middle">24</text>
<text font-size="16.3" transform="translate(490.1 495.3) scale(1.150 1)" class="bold" text-anchor="middle">28</text>
<text font-size="16.3" transform="translate(540.9 495.3) scale(1.150 1)" class="bold" text-anchor="middle">32</text>
<text font-size="16.3" transform="translate(591.7 495.3) scale(1.150 1)" class="bold" text-anchor="middle">36</text>
<text font-size="16.3" transform="translate(642.6 495.3) scale(1.150 1)" class="bold" text-anchor="middle">40</text>
<text font-size="16.3" transform="translate(693.4 495.3) scale(1.150 1)" class="bold" text-anchor="middle">44</text>
<text font-size="16.3" transform="translate(744.2 495.3) scale(1.150 1)" class="bold" text-anchor="middle">48</text>
<text font-size="16.8" transform="translate(126.5 400.3) scale(1.150 1)" class="bold" text-anchor="end">5</text>
<text font-size="16.8" transform="translate(126.5 320.5) scale(1.150 1)" class="bold" text-anchor="end">10</text>
<text font-size="16.8" transform="translate(126.5 240.7) scale(1.150 1)" class="bold" text-anchor="end">15</text>
<text font-size="17.2" transform="translate(810.5 264.3) scale(1.000 1)" class="thin2" font-weight="bold">36</text>
<text font-size="17.2" transform="translate(810.5 298.2) scale(1.000 1)" class="thin2" font-weight="bold">24</text>
<text font-size="17.2" transform="translate(810.5 332.1) scale(1.000 1)" class="thin2" font-weight="bold">12</text>
<text font-size="17.2" transform="translate(810.5 366.0) scale(1.000 1)" class="thin2" font-weight="bold">0</text>
<text font-size="17.2" transform="translate(810.5 399.9) scale(1.000 1)" class="thin2" font-weight="bold">−12</text>
<text font-size="17.2" transform="translate(810.5 433.8) scale(1.000 1)" class="thin2" font-weight="bold">−24</text>
<text font-size="17.2" transform="translate(810.5 467.7) scale(1.000 1)" class="thin2" font-weight="bold">−36</text>
</g>
</svg>
</body></html>
